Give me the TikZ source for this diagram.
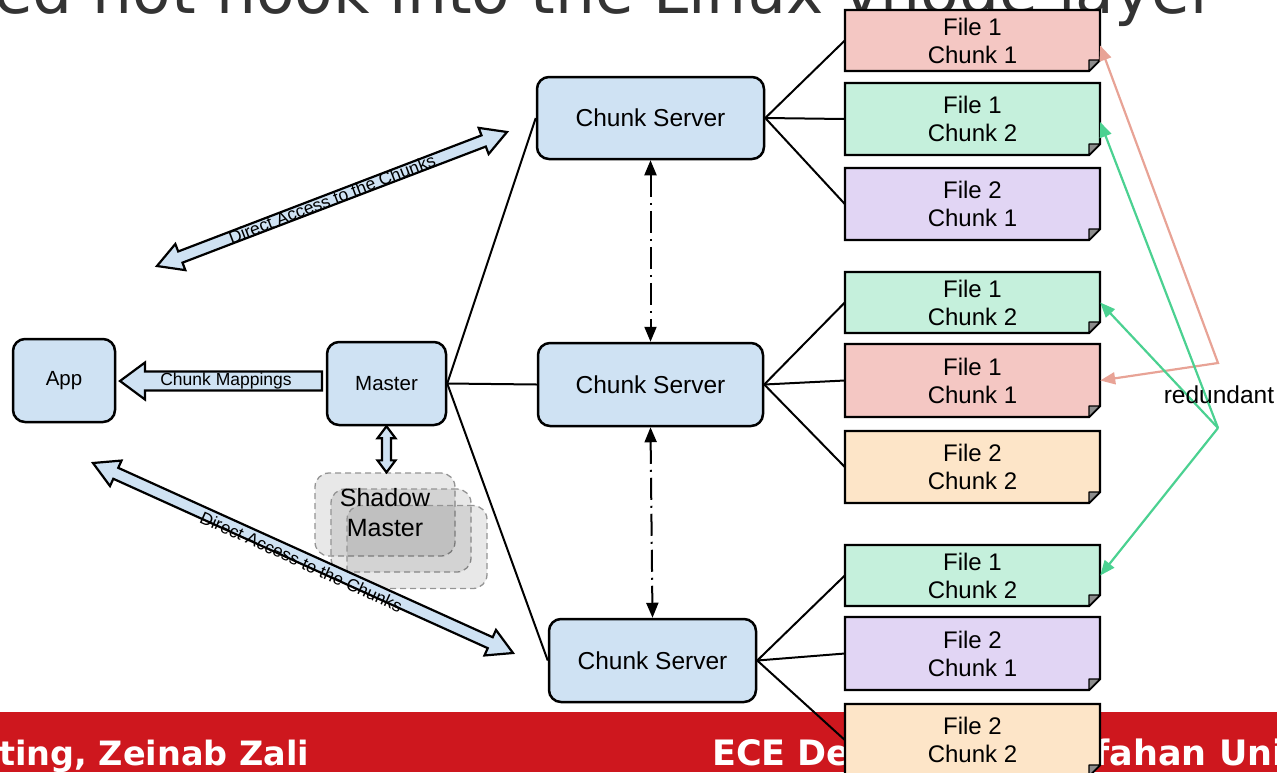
\documentclass[tikz,border=0pt]{standalone}
\usepackage{fontspec}
\setmainfont{Liberation Sans}
\newfontfamily\dejavu{DejaVu Sans}
\usetikzlibrary{arrows.meta,calc}

\definecolor{nodeblue}{HTML}{CFE2F3}
\definecolor{chunkred}{HTML}{F4C7C3}
\definecolor{chunkgreen}{HTML}{C5F0DC}
\definecolor{chunkviolet}{HTML}{E1D5F4}
\definecolor{chunkpeach}{HTML}{FDE5C8}
\definecolor{linkred}{HTML}{E8A396}
\definecolor{linkgreen}{HTML}{4BD191}
\definecolor{footerred}{HTML}{CE171E}
\definecolor{titlegray}{HTML}{333333}

% chunk replica: folded-corner box with a two-line label
% #1 name, #2 top, #3 bottom, #4 fill, #5 first line, #6 second line
\newcommand\chunk[6]{%
  \filldraw[chunkedge, fill=#4] (845,#2) -- (1100,#2) -- (1100,#3-11) -- (1089,#3) -- (845,#3) -- cycle;
  \filldraw[chunkflap] (1089,#3) -- (1100,#3-11) -- (1089,#3-11) -- cycle;
  \node[chunklabel, minimum height={(#3-#2)*1pt}] (#1) at (972.5,{(#2+#3)/2}) {#5\\#6};
}

% double-headed block arrow: #1 from, #2 to, #3 shaft half width, #4 head half width, #5 head length
\newcommand\dblarrow[5]{%
  \filldraw[blockarrow] (#1)
    -- ($(#1)!#5!(#2)!#4!90:(#2)$) -- ($(#1)!#5!(#2)!#3!90:(#2)$)
    -- ($(#2)!#5!(#1)!#3!-90:(#1)$) -- ($(#2)!#5!(#1)!#4!-90:(#1)$)
    -- (#2)
    -- ($(#2)!#5!(#1)!#4!90:(#1)$) -- ($(#2)!#5!(#1)!#3!90:(#1)$)
    -- ($(#1)!#5!(#2)!#3!-90:(#2)$) -- ($(#1)!#5!(#2)!#4!-90:(#2)$)
    -- cycle;
}

% single-headed block arrow: #1 tail, #2 tip, #3 shaft half width, #4 head half width, #5 head length
\newcommand\sglarrow[5]{%
  \filldraw[blockarrow] (#2)
    -- ($(#2)!#5!(#1)!#4!90:(#1)$) -- ($(#2)!#5!(#1)!#3!90:(#1)$)
    -- ($(#1)!#3!-90:(#2)$) -- ($(#1)!#3!90:(#2)$)
    -- ($(#2)!#5!(#1)!#3!-90:(#1)$) -- ($(#2)!#5!(#1)!#4!-90:(#1)$)
    -- cycle;
}

\begin{document}
\begin{tikzpicture}[x=1pt, y=-1pt,
  bluebox/.style={draw, line width=2.5pt, rounded corners=12pt, fill=nodeblue, inner sep=0pt},
  conn/.style={line width=2pt},
  chunkedge/.style={line width=2.4pt, line join=miter},
  chunkflap/.style={line width=1.4pt, fill=black!45, line join=round},
  chunklabel/.style={inner sep=0pt, minimum width=255pt, align=center, font=\fontsize{24}{28}\selectfont},
  blockarrow/.style={line width=2.2pt, fill=nodeblue, line join=miter},
  arrowtext/.style={inner sep=0pt, font=\fontsize{17.5}{20}\selectfont},
  shadowbox/.style={draw=black!42, dash pattern=on 6pt off 4pt, line width=1.3pt, fill=black, fill opacity=0.09, rounded corners=14pt, minimum width=140pt, minimum height=83pt, inner sep=0pt},
  heartbeat/.style={line width=2pt, dash pattern=on 22pt off 6pt on 2pt off 6pt, {Triangle[length=15pt,width=12pt]}-{Triangle[length=15pt,width=12pt]}},
  replica/.style={line width=2.2pt, line join=miter, -{Triangle[length=15pt,width=12pt]}},
  foottext/.style={anchor=base west, inner sep=0pt, text=white},
]
\useasboundingbox (0,0) rectangle (1277,772);
\clip (0,0) rectangle (1277,772);

% slide title and footer band
\node[anchor=base west, inner sep=0pt, text=titlegray, font=\dejavu\fontsize{63}{70}\selectfont] (title) at (-6,13) {ed not hook into the Linux vnode layer};
\fill[footerred] (0,712) rectangle (1277,772);
\node[foottext, font=\dejavu\bfseries\fontsize{33.5}{36}\selectfont] (footl) at (-1,765) {ting, Zeinab Zali};
\node[foottext, font=\dejavu\bfseries\fontsize{35}{38}\selectfont] (footr) at (712,765) {ECE Department, Isfahan University};

% chunk replicas
\chunk{b1}{10}{71}{chunkred}{File 1}{Chunk 1}
\chunk{b2}{83}{155}{chunkgreen}{File 1}{Chunk 2}
\chunk{b3}{168}{240}{chunkviolet}{File 2}{Chunk 1}
\chunk{b4}{272}{333}{chunkgreen}{File 1}{Chunk 2}
\chunk{b5}{344}{417}{chunkred}{File 1}{Chunk 1}
\chunk{b6}{431}{503}{chunkpeach}{File 2}{Chunk 2}
\chunk{b7}{545}{606}{chunkgreen}{File 1}{Chunk 2}
\chunk{b8}{617}{690}{chunkviolet}{File 2}{Chunk 1}
\chunk{b9}{704}{776}{chunkpeach}{File 2}{Chunk 2}

% shadow masters
\node[shadowbox] (sm1) at (385,514.5) {};
\node[shadowbox] (sm2) at (401,530.5) {};
\node[shadowbox] (sm3) at (417,547) {};
\node[align=center, inner sep=0pt, font=\fontsize{25}{30}\selectfont] (smtext) at (385,513) {Shadow\\Master};

% main components
\node[bluebox, minimum width=102pt, minimum height=83pt, font=\fontsize{20.5}{24}\selectfont] (app) at (64,380.5) {App};
\node[bluebox, minimum width=119pt, minimum height=83pt, font=\fontsize{20.5}{24}\selectfont] (master) at (386.5,383.5) {Master};
\node[bluebox, minimum width=227pt, minimum height=82pt, font=\fontsize{24.5}{28}\selectfont] (cs1) at (650.5,118) {Chunk Server};
\node[bluebox, minimum width=225pt, minimum height=83pt, font=\fontsize{24.5}{28}\selectfont] (cs2) at (650.5,384.5) {Chunk Server};
\node[bluebox, minimum width=207pt, minimum height=83pt, font=\fontsize{24.5}{28}\selectfont] (cs3) at (652.5,660.5) {Chunk Server};

% master to chunk servers
\draw[conn] (master.east) -- (cs1.west);
\draw[conn] (master.east) -- (cs2.west);
\draw[conn] (master.east) -- (cs3.west);

% chunk servers to their chunks
\foreach \s/\c in {cs1/b1, cs1/b2, cs1/b3, cs2/b4, cs2/b5, cs2/b6, cs3/b7, cs3/b8, cs3/b9}
  \draw[conn] (\s.east) -- (\c.west);

% chunk server heartbeats
\draw[heartbeat] (cs1.south) -- (cs2.north);
\draw[heartbeat] (cs2.south) -- (cs3.north);

% block arrows
\coordinate (cmtail) at (322,381);
\coordinate (cmtip) at (120,381);
\sglarrow{cmtail}{cmtip}{9.5pt}{18.5pt}{25pt}
\node[arrowtext] (cmtext) at (226,381) {Chunk Mappings};

\coordinate (msa) at (master.south);
\coordinate (msb) at (master.south |- sm1.north);
\dblarrow{msa}{msb}{4.5pt}{9pt}{12pt}

\coordinate (da1a) at (157,266);
\coordinate (da1b) at (507,132);
\dblarrow{da1a}{da1b}{6pt}{14pt}{25pt}
\path (da1a) -- (da1b) node[arrowtext, midway, sloped] (da1text) {Direct Access to the Chunks};

\coordinate (da2a) at (93,463);
\coordinate (da2b) at (513,653);
\dblarrow{da2a}{da2b}{6pt}{14pt}{25pt}
\path (da2a) -- (da2b) node[arrowtext, midway, sloped, yshift=-4pt] (da2text) {Direct Access to the Chunks};

% replication links
\coordinate (redjoin) at (1218,363);
\coordinate (greenjoin) at (1218,428);
\draw[replica, linkred, {Triangle[length=15pt,width=12pt]}-{Triangle[length=15pt,width=12pt]}] ([yshift=-5pt]b1.east) -- (redjoin) -- (b5.east);
\draw[replica, linkgreen] (greenjoin) -- ([yshift=-3pt]b2.east);
\draw[replica, linkgreen] (greenjoin) -- (b4.east);
\draw[replica, linkgreen] (greenjoin) -- (b7.east);
\node[inner sep=0pt, font=\fontsize{24.5}{28}\selectfont] (redundant) at (1219,395) {redundant};

\end{tikzpicture}
\end{document}
